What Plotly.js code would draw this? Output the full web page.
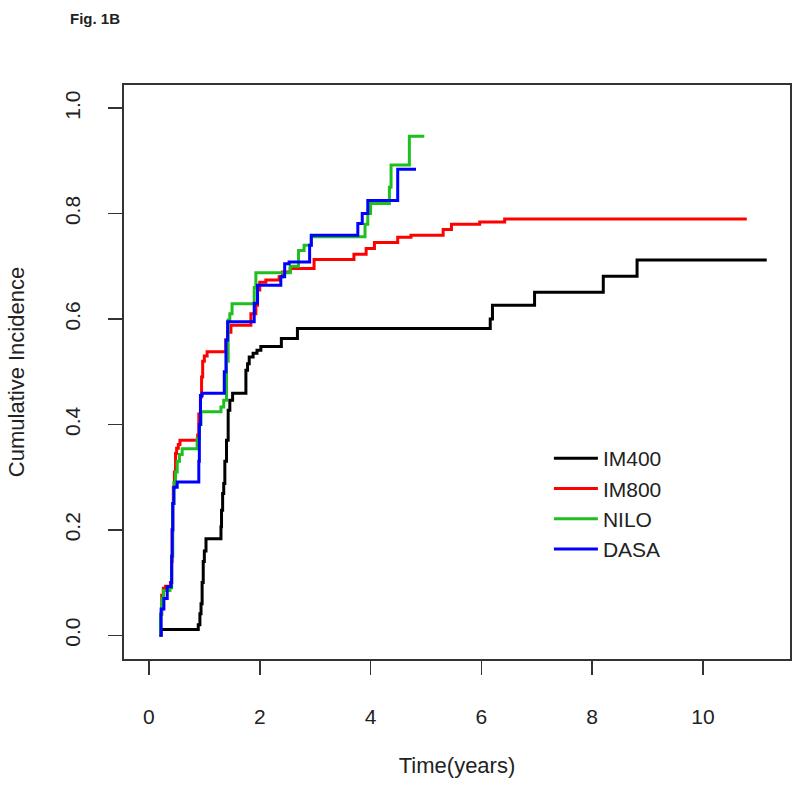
<!DOCTYPE html>
<html>
<head>
<meta charset="utf-8">
<script src="https://cdn.plot.ly/plotly-3.0.1.min.js"></script>
<style>html,body{margin:0;padding:0;background:#fff;}#chart{width:800px;height:789px;}</style>
</head>
<body>
<div id="chart"></div>
<script>
// Series names
const seriesNames = ["IM400", "IM800", "NILO", "DASA"];
const seriesColors = ["#000000", "#ff0000", "#1fbf1f", "#0000ff"];

// IM400 (black)
const im400Time = [0.19, 0.22, 0.89, 0.92, 0.94, 0.96, 0.98, 1.00, 1.03, 1.30, 1.31, 1.33, 1.35, 1.37, 1.40, 1.43, 1.46, 1.51, 1.75, 1.78, 1.81, 1.88, 1.95, 2.02, 2.39, 2.68, 6.16, 6.20, 6.96, 8.20, 8.81, 11.15];
const im400Value = [0.000, 0.011, 0.020, 0.041, 0.060, 0.100, 0.140, 0.160, 0.183, 0.206, 0.237, 0.269, 0.288, 0.330, 0.370, 0.427, 0.446, 0.459, 0.503, 0.515, 0.528, 0.535, 0.541, 0.548, 0.563, 0.582, 0.600, 0.626, 0.651, 0.681, 0.712, 0.712];

// IM800 (red)
const im800Time = [0.19, 0.21, 0.23, 0.26, 0.30, 0.39, 0.41, 0.42, 0.43, 0.44, 0.46, 0.48, 0.50, 0.53, 0.56, 0.88, 0.90, 0.93, 0.95, 0.97, 1.00, 1.05, 1.39, 1.42, 1.48, 1.84, 1.93, 1.96, 2.00, 2.11, 2.35, 2.41, 2.55, 2.98, 3.70, 3.92, 4.07, 4.49, 4.73, 5.31, 5.46, 5.97, 6.42, 10.79];
const im800Value = [0.000, 0.040, 0.076, 0.089, 0.093, 0.100, 0.140, 0.200, 0.250, 0.280, 0.310, 0.345, 0.355, 0.362, 0.370, 0.380, 0.420, 0.452, 0.490, 0.520, 0.530, 0.538, 0.560, 0.575, 0.588, 0.610, 0.626, 0.655, 0.670, 0.674, 0.680, 0.689, 0.696, 0.713, 0.723, 0.734, 0.745, 0.755, 0.759, 0.770, 0.780, 0.784, 0.790, 0.790];

// NILO (green)
const niloTime = [0.19, 0.21, 0.23, 0.26, 0.38, 0.41, 0.43, 0.45, 0.48, 0.51, 0.55, 0.60, 0.87, 0.91, 0.94, 1.30, 1.35, 1.40, 1.43, 1.46, 1.50, 1.90, 1.93, 2.55, 2.70, 2.80, 2.93, 3.90, 3.95, 4.00, 4.34, 4.37, 4.70, 4.97];
const niloValue = [0.000, 0.040, 0.070, 0.085, 0.090, 0.150, 0.250, 0.290, 0.310, 0.330, 0.343, 0.354, 0.373, 0.400, 0.424, 0.433, 0.446, 0.520, 0.598, 0.610, 0.629, 0.660, 0.688, 0.700, 0.730, 0.740, 0.756, 0.780, 0.800, 0.819, 0.850, 0.892, 0.947, 0.947];

// DASA (blue)
const dasaTime = [0.19, 0.22, 0.27, 0.33, 0.40, 0.41, 0.42, 0.43, 0.45, 0.51, 0.90, 0.91, 0.93, 0.96, 1.36, 1.39, 1.42, 1.90, 1.96, 2.38, 2.45, 2.53, 2.90, 2.93, 3.77, 3.85, 3.95, 4.49, 4.82];
const dasaValue = [0.000, 0.050, 0.070, 0.092, 0.100, 0.150, 0.200, 0.250, 0.281, 0.291, 0.330, 0.400, 0.455, 0.459, 0.500, 0.560, 0.595, 0.630, 0.664, 0.680, 0.705, 0.708, 0.740, 0.759, 0.781, 0.800, 0.825, 0.884, 0.884];

const xTicks = [0, 2, 4, 6, 8, 10];
const yTicks = [0.0, 0.2, 0.4, 0.6, 0.8, 1.0];
const yTickLabels = ["0.0", "0.2", "0.4", "0.6", "0.8", "1.0"];

const times = [im400Time, im800Time, niloTime, dasaTime];
const values = [im400Value, im800Value, niloValue, dasaValue];

const FONT = "Liberation Sans, Arial, Helvetica, sans-serif";

const traces = seriesNames.map((name, i) => ({
  type: "scatter",
  mode: "lines",
  name: name,
  x: times[i],
  y: values[i],
  line: { shape: "hv", color: seriesColors[i], width: 3 },
  hoverinfo: "skip"
}));

const layout = {
  width: 800,
  height: 789,
  paper_bgcolor: "#ffffff",
  plot_bgcolor: "#ffffff",
  margin: { l: 124, r: 10, t: 85, b: 130 },
  font: { family: FONT, color: "#222" },
  title: {
    text: "<b>Fig. 1B</b>",
    font: { family: FONT, size: 15, color: "#222" },
    xref: "container", yref: "container",
    x: 70 / 800, xanchor: "left",
    y: 1 - 19 / 789, yanchor: "middle"
  },
  xaxis: {
    range: [-0.45, 11.57],
    tickvals: xTicks,
    ticktext: xTicks.map(String),
    ticks: "outside",
    ticklen: 14,
    tickwidth: 1.5,
    tickcolor: "#333",
    showline: true,
    linecolor: "#333",
    linewidth: 2,
    mirror: true,
    showgrid: false,
    zeroline: false,
    tickfont: { family: FONT, size: 21, color: "#222" },
    ticklabelstandoff: 24,
    title: { text: "Time(years)", font: { family: FONT, size: 22, color: "#222" }, standoff: 30 }
  },
  yaxis: {
    range: [-0.045, 1.044],
    tickvals: yTicks,
    ticktext: yTickLabels,
    tickangle: -90,
    ticks: "outside",
    ticklen: 14,
    tickwidth: 1.5,
    tickcolor: "#333",
    showline: true,
    linecolor: "#333",
    linewidth: 2,
    mirror: true,
    showgrid: false,
    zeroline: false,
    tickfont: { family: FONT, size: 21, color: "#222" },
    ticklabelstandoff: 20,
    title: { text: "Cumulative Incidence", font: { family: FONT, size: 22, color: "#222" }, standoff: 30 }
  },
  showlegend: true,
  legend: {
    x: 0.638, xanchor: "left",
    y: 0.385, yanchor: "top",
    bgcolor: "rgba(0,0,0,0)",
    borderwidth: 0,
    itemwidth: 44,
    font: { family: FONT, size: 21, color: "#222" },
    tracegroupgap: 0
  }
};

Plotly.newPlot("chart", traces, layout, { staticPlot: true, displayModeBar: false });
</script>
</body>
</html>
